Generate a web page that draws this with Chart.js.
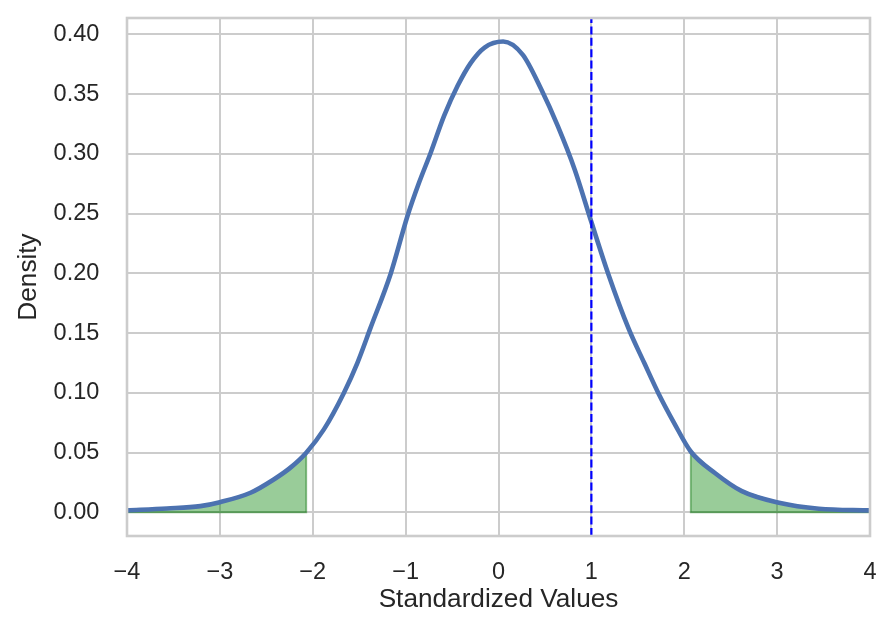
<!DOCTYPE html>
<html>
<head>
<meta charset="utf-8">
<script src="https://cdn.jsdelivr.net/npm/chart.js@4/dist/chart.umd.min.js"></script>
<style>
    html, body { margin: 0; padding: 0; background: #ffffff; }
    #wrap { width: 895px; height: 638px; position: relative; }
</style>
</head>
<body>
<div id="wrap"><canvas id="densityChart"></canvas></div>
<script>
// Density curve
const xValues = [-4.0, -3.57, -3.21, -3.0, -2.67, -2.42, -2.24, -2.07, -1.88, -1.665, -1.52, -1.38, -1.16, -0.98,
    -0.855, -0.73, -0.585, -0.44, -0.30, -0.15, 0.05, 0.26, 0.46, 0.64, 0.82, 1.0, 1.18, 1.40, 1.57, 1.72, 1.89,
    2.07, 2.33, 2.62, 3.02, 3.45, 4.0];
const densityValues = [0.0017, 0.0033, 0.0053, 0.0086, 0.0165, 0.0276, 0.0375, 0.050, 0.0695, 0.100, 0.125, 0.154, 0.200, 0.248,
    0.276, 0.301, 0.332, 0.357, 0.376, 0.389, 0.394, 0.383, 0.354, 0.323, 0.287, 0.243, 0.200, 0.154, 0.125, 0.100, 0.075,
    0.051, 0.033, 0.0178, 0.0081, 0.0031, 0.0017];

// Shaded tails and the dashed marker
const leftCut = -2.07;
const rightCut = 2.07;
const markerX = 1;

// Axes
const xTicks = [-4, -3, -2, -1, 0, 1, 2, 3, 4];
const yTicks = [0.00, 0.05, 0.10, 0.15, 0.20, 0.25, 0.30, 0.35, 0.40];
const xRange = [-4, 4];
const yRange = [-0.0197, 0.4137];

const textColor = '#262626';
const gridColor = '#cccccc';
const fontFamily = '"Liberation Sans", Arial, sans-serif';

const curve = xValues.map((x, i) => ({ x: x, y: densityValues[i] }));

// closed outline of a tail: along the axis, up the cut, then back along the curve
function tailShape(from, to) {
    const pts = curve.filter(p => p.x >= Math.min(from, to) && p.x <= Math.max(from, to));
    if (from < to) pts.reverse();
    const cutY = densityValues[xValues.indexOf(to)];
    return [{ x: from, y: 0 }, { x: to, y: 0 }, { x: to, y: cutY }].concat(pts.filter(p => p.x !== to));
}

// frame round the plot area, like the spines
const frame = {
    id: 'frame',
    afterDatasetsDraw(chart) {
        const a = chart.chartArea;
        const ctx = chart.ctx;
        ctx.save();
        ctx.strokeStyle = gridColor;
        ctx.lineWidth = 2.6;
        ctx.strokeRect(a.left, a.top, a.right - a.left, a.bottom - a.top);
        ctx.restore();
    }
};

new Chart(document.getElementById('densityChart'), {
    type: 'line',
    data: {
        datasets: [
            {
                label: 'marker',
                data: [{ x: markerX, y: yRange[0] }, { x: markerX, y: yRange[1] }],
                borderColor: '#0000ff',
                borderWidth: 2.2,
                borderDash: [8, 3.4],
                pointRadius: 0,
                fill: false,
                tension: 0
            },
            {
                label: 'density',
                data: curve,
                borderColor: '#4c72b0',
                borderWidth: 4.6,
                pointRadius: 0,
                fill: false,
                cubicInterpolationMode: 'monotone'
            },
            {
                label: 'left tail',
                data: tailShape(xRange[0], leftCut),
                borderColor: 'rgba(0, 110, 0, 0.45)',
                backgroundColor: 'rgba(0, 128, 0, 0.4)',
                borderWidth: 1.8,
                pointRadius: 0,
                fill: 'shape',
                tension: 0
            },
            {
                label: 'right tail',
                data: tailShape(xRange[1], rightCut),
                borderColor: 'rgba(0, 110, 0, 0.45)',
                backgroundColor: 'rgba(0, 128, 0, 0.4)',
                borderWidth: 1.8,
                pointRadius: 0,
                fill: 'shape',
                tension: 0
            }
        ]
    },
    options: {
        responsive: true,
        maintainAspectRatio: false,
        animation: false,
        layout: {
            padding: { top: 18, right: 25, bottom: 0, left: 0 }
        },
        plugins: {
            legend: { display: false },
            tooltip: { enabled: false }
        },
        scales: {
            x: {
                type: 'linear',
                min: xRange[0],
                max: xRange[1],
                afterBuildTicks: scale => { scale.ticks = xTicks.map(v => ({ value: v })); },
                afterFit: scale => {
                    scale.height = 638 - 536;
                    scale.paddingLeft = 0;
                    scale.paddingRight = 0;
                },
                grid: { color: gridColor, lineWidth: 2, drawTicks: false },
                border: { display: false },
                ticks: {
                    autoSkip: false,
                    maxRotation: 0,
                    padding: 22.4,
                    color: textColor,
                    font: { family: fontFamily, size: 23.5 },
                    callback: v => (v < 0 ? '\u2212' + Math.abs(v) : String(v))
                },
                title: {
                    display: true,
                    text: 'Standardized Values',
                    color: textColor,
                    font: { family: fontFamily, size: 26.2 },
                    padding: { top: 0, bottom: 22.4 }
                }
            },
            y: {
                type: 'linear',
                min: yRange[0],
                max: yRange[1],
                afterBuildTicks: scale => { scale.ticks = yTicks.map(v => ({ value: v })); },
                afterFit: scale => {
                    scale.width = 127;
                    scale.paddingTop = 0;
                    scale.paddingBottom = 0;
                },
                grid: { color: gridColor, lineWidth: 2, drawTicks: false },
                border: { display: false },
                ticks: {
                    autoSkip: false,
                    padding: 27.7,
                    color: textColor,
                    font: { family: fontFamily, size: 23.5 },
                    callback: v => v.toFixed(2)
                },
                title: {
                    display: true,
                    text: 'Density',
                    color: textColor,
                    font: { family: fontFamily, size: 26.2 },
                    padding: { top: 13.5, bottom: 0 }
                }
            }
        }
    },
    plugins: [frame]
});
</script>
</body>
</html>
